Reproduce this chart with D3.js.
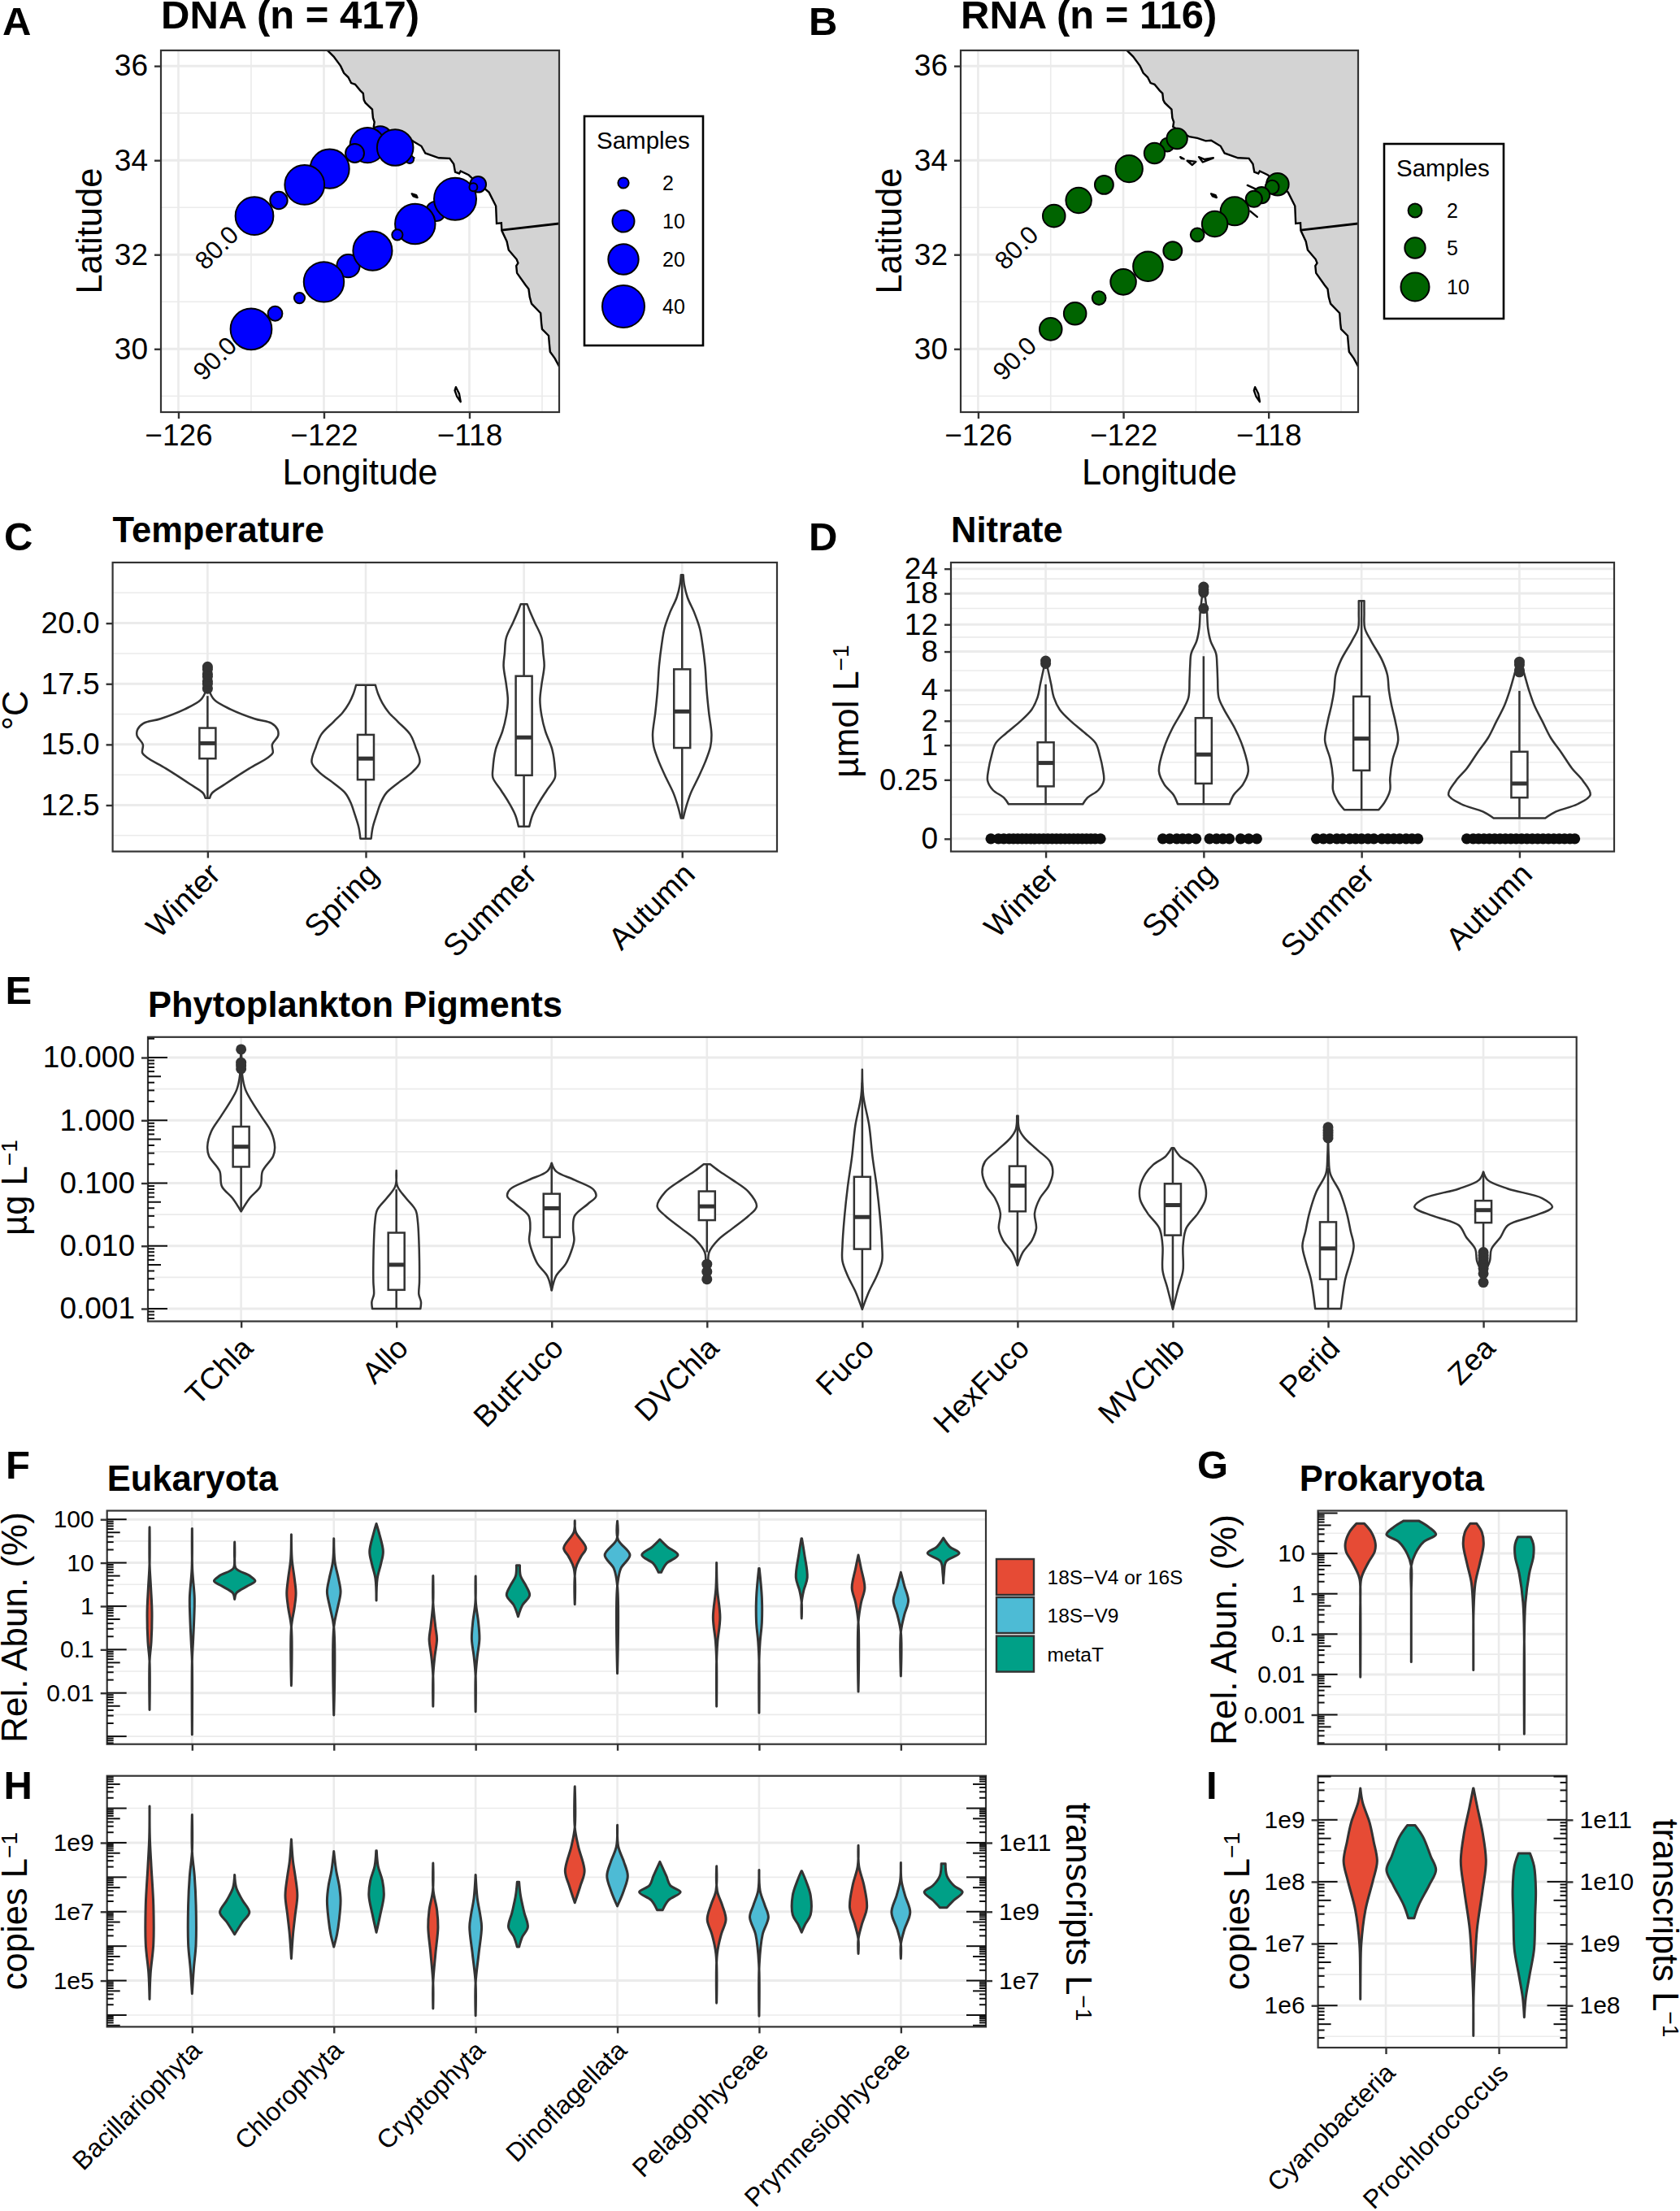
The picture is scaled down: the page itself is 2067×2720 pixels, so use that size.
<!DOCTYPE html>
<html>
<head>
<meta charset="utf-8">
<script src="https://cdn.jsdelivr.net/npm/d3@7"></script>
<style>
	body { margin: 0; background: #fff; }
	text { font-family: 'Liberation Sans', Arial, sans-serif; fill: #000; }
</style>
</head>
<body>
<div id="chart"></div>
<script>
const w = 2067;
const h = 2720;

// ---- maps: [lon, lat, samples], listed in drawing order
const dnaStations = [
	[-119.64, 34.02, 1], [-120.45, 34.47, 12], [-120.8, 34.32, 27], [-120.04, 34.27, 29], [-121.15, 34.15, 7],
	[-121.84, 33.82, 34], [-122.53, 33.48, 35], [-123.24, 33.15, 6], [-123.91, 32.82, 32],
	[-117.76, 33.49, 5], [-118.92, 32.92, 8], [-118.39, 33.18, 40], [-117.89, 33.43, 1], [-119.49, 32.65, 36],
	[-119.98, 32.42, 2], [-121.33, 31.76, 11], [-120.66, 32.08, 34], [-122.0, 31.42, 36], [-122.67, 31.08, 2],
	[-123.34, 30.75, 4], [-124.0, 30.42, 38],
];
const rnaStations = [
	[-120.79, 34.33, 2], [-120.52, 34.46, 5], [-121.14, 34.15, 5], [-121.84, 33.82, 9], [-122.53, 33.48, 4],
	[-123.23, 33.15, 8], [-123.91, 32.82, 6],
	[-117.75, 33.49, 6], [-117.9, 33.43, 2], [-118.19, 33.26, 3], [-118.4, 33.18, 3], [-118.93, 32.92, 10],
	[-119.48, 32.65, 8], [-119.96, 32.42, 2], [-120.64, 32.08, 4], [-121.32, 31.75, 11], [-122.0, 31.42, 8],
	[-122.67, 31.08, 2], [-123.33, 30.75, 6], [-124.0, 30.42, 6],
];
const dnaLegend = [2, 10, 20, 40];
const rnaLegend = [2, 5, 10];

const coast = [
	[-121.95, 36.45], [-121.9, 36.33], [-121.73, 36.2], [-121.54, 36.0], [-121.45, 35.85], [-121.33, 35.76], [-121.25, 35.64], [-121.14, 35.61], [-121.0, 35.48], [-120.92, 35.42],
	[-120.9, 35.28], [-120.86, 35.22], [-120.67, 35.08], [-120.65, 34.9], [-120.61, 34.81], [-120.63, 34.71], [-120.18, 34.5], [-119.96, 34.47], [-119.73, 34.41], [-119.58, 34.42],
	[-119.32, 34.3], [-119.21, 34.15], [-118.84, 34.05], [-118.54, 34.04], [-118.43, 33.92], [-118.39, 33.75], [-118.28, 33.72], [-118.24, 33.77],
	[-118.02, 33.69], [-117.94, 33.63], [-117.46, 33.32], [-117.27, 33.03], [-117.25, 32.66], [-117.12, 32.67], [-117.11, 32.51], [-116.97, 32.28], [-116.92, 32.1],
	[-116.7, 31.9], [-116.66, 31.82], [-116.71, 31.76], [-116.69, 31.61], [-116.45, 31.35], [-116.37, 31.27], [-116.34, 31.1], [-116.29, 30.96], [-116.04, 30.76], [-116.02, 30.55], [-116.0, 30.42],
	[-115.82, 30.28], [-115.8, 30.1], [-115.78, 29.94], [-115.65, 29.8], [-115.53, 29.63], [-115.4, 29.5],
];
const landCorners = [[-115, 29.5], [-115, 36.6], [-121.95, 36.6]];
const border = [[-117.11, 32.52], [-115.4, 32.67]];
const islands = [
	[[-120.43, 34.07], [-120.33, 34.03], [-120.4, 34.04]],
	[[-120.24, 33.99], [-120.0, 33.97], [-120.1, 33.9]],
	[[-119.92, 34.07], [-119.76, 34.02], [-119.52, 34.05], [-119.81, 33.96]],
	[[-119.58, 33.29], [-119.46, 33.26], [-119.43, 33.21], [-119.54, 33.24]],
	[[-118.58, 33.47], [-118.35, 33.39]],
	[[-118.5, 32.92], [-118.31, 32.8]],
	[[-118.37, 29.19], [-118.28, 29.05], [-118.24, 28.88], [-118.34, 28.99], [-118.4, 29.12]],
];

// ---- seasons: profile rows are [value, density]
const seasons = ['Winter', 'Spring', 'Summer', 'Autumn'];

const tempViolins = [
	[[18.24, 1], [17.6, 2], [17.22, 5], [16.83, 15], [16.45, 45], [16.06, 90], [15.87, 122], [15.62, 133], [15.36, 134], [15, 123], [14.65, 124], [14.46, 115], [14.01, 80], [13.37, 35], [12.99, 10], [12.79, 6]],
	[[17.45, 20], [17.09, 25], [16.71, 33], [16.32, 45], [15.94, 62], [15.42, 85], [14.91, 95], [14.27, 103], [13.88, 90], [13.37, 60], [12.99, 40], [12.6, 30], [12.09, 22], [11.58, 15], [11.12, 12]],
	[[20.78, 8], [20.55, 12], [20.04, 22], [19.4, 35], [18.76, 38], [18.24, 40], [17.47, 35], [16.83, 32], [16.19, 35], [15.55, 42], [14.78, 55], [14.01, 60], [13.63, 60], [13.12, 45], [12.6, 30], [12.09, 18], [11.62, 12]],
	[[21.99, 4], [21.58, 6], [21.06, 12], [20.42, 25], [19.78, 35], [19.14, 40], [18.24, 45], [17.22, 48], [16.32, 52], [15.42, 57], [14.91, 55], [14.27, 45], [13.63, 32], [12.99, 18], [12.47, 10], [11.96, 4]],
];
// whisker low, Q1, median, Q3, whisker high
const tempBoxes = [
	[12.8, 14.42, 15.05, 15.68, 17.0],
	[11.12, 13.55, 14.42, 15.4, 17.45],
	[11.62, 13.73, 15.29, 17.82, 20.78],
	[11.96, 14.86, 16.36, 18.1, 21.99],
];
const tempOutliers = [[17.3, 17.5, 17.6, 17.8, 17.9, 18.1, 18.2], [], [], []];

// nitrate profiles are read on the axis' cube-root scale
const nitrateViolins = [
	[[1.92, 2], [1.81, 6], [1.65, 12], [1.51, 17], [1.38, 28], [1.25, 50], [1.13, 75], [1.02, 95], [0.88, 103], [0.75, 108], [0.62, 110], [0.52, 100], [0.44, 80], [0.37, 71]],
	[[2.7, 3], [2.58, 5], [2.43, 8], [2.25, 10], [2.11, 15], [1.98, 25], [1.85, 27], [1.71, 28], [1.51, 30], [1.38, 40], [1.18, 60], [0.98, 75], [0.72, 85], [0.58, 75], [0.47, 58], [0.37, 50]],
	[[2.54, 7], [2.41, 7], [2.25, 8], [2.11, 20], [1.91, 40], [1.75, 50], [1.58, 53], [1.42, 58], [1.25, 65], [1.05, 70], [0.85, 60], [0.65, 55], [0.52, 55], [0.39, 45], [0.31, 34]],
	[[1.91, 3], [1.78, 10], [1.58, 20], [1.42, 30], [1.25, 45], [1.08, 60], [0.92, 80], [0.75, 100], [0.62, 120], [0.47, 134], [0.37, 110], [0.29, 70], [0.22, 50]],
];
const nitrateBoxes = [
	[0.37, 0.56, 0.81, 1.03, 1.65],
	[0.37, 0.59, 0.9, 1.29, 1.95],
	[0.31, 0.73, 1.07, 1.52, 2.54],
	[0.22, 0.44, 0.59, 0.93, 1.58],
];
const nitrateOutliers = [[1.87, 1.9], [2.46, 2.63, 2.66, 2.69], [], [1.78, 1.8, 1.86, 1.89]];
const nitrateZeros = [
	[-102, -88, -78, -68, -60, -52, -44, -36, -28, -20, -12, -4, 4, 12, 20, 28, 36, 44, 52, 60, 68, 76, 84, 92, 102],
	[-76, -63, -50, -39, -28, -14, 11, 24, 36, 48, 69, 84, 99],
	[-84, -71, -59, -46, -35, -22, -11, 0, 12, 23, 38, 49, 60, 71, 83, 94, 105],
	[-98, -86, -76, -66, -56, -46, -36, -26, -16, -6, 4, 14, 24, 34, 44, 54, 64, 74, 84, 94, 103],
];
const nitrateTicks = [0, 0.25, 1, 2, 4, 8, 12, 18, 24];
const nitrateMinor = [0.0174, 0.088, 0.546, 1.45, 2.94, 5.8, 9.98, 14.9, 21.4];

// ---- pigments: profile rows are [log10 value, density]
const pigments = ['TChla', 'Allo', 'ButFuco', 'DVChla', 'Fuco', 'HexFuco', 'MVChlb', 'Perid', 'Zea'];
const pigmentViolins = [
	[[1.13, 1], [0.97, 3], [0.73, 4], [0.49, 10], [0.3, 22], [0.06, 40], [-0.18, 58], [-0.42, 65], [-0.57, 62], [-0.81, 42], [-1.05, 38], [-1.24, 18], [-1.45, 2]],
	[[-0.8, 1], [-1.05, 4], [-1.24, 20], [-1.43, 38], [-1.62, 42], [-1.91, 44], [-2.24, 45], [-2.58, 45], [-2.77, 44], [-2.89, 48], [-3, 47]],
	[[-0.68, 2], [-0.81, 10], [-0.95, 45], [-1.1, 80], [-1.21, 85], [-1.33, 70], [-1.52, 45], [-1.72, 42], [-1.91, 44], [-2.1, 38], [-2.29, 28], [-2.48, 10], [-2.71, 2]],
	[[-0.7, 8], [-0.81, 25], [-0.95, 50], [-1.14, 80], [-1.37, 95], [-1.52, 80], [-1.72, 50], [-1.91, 22], [-2.1, 6], [-2.29, 4], [-2.58, 1]],
	[[0.81, 1], [0.39, 4], [-0.09, 15], [-0.57, 21], [-1.05, 29], [-1.52, 35], [-2, 39], [-2.24, 39], [-2.48, 29], [-2.72, 15], [-3.01, 1]],
	[[0.07, 3], [-0.14, 5], [-0.28, 15], [-0.47, 39], [-0.66, 63], [-0.83, 68], [-1.05, 60], [-1.24, 44], [-1.48, 34], [-1.72, 37], [-1.91, 29], [-2.1, 12], [-2.31, 2]],
	[[-0.44, 4], [-0.57, 15], [-0.71, 39], [-0.85, 53], [-1.05, 63], [-1.26, 63], [-1.48, 49], [-1.72, 27], [-2, 21], [-2.39, 21], [-2.67, 12], [-3.01, 1]],
	[[-0.11, 2], [-0.57, 3], [-0.85, 6], [-1.14, 24], [-1.48, 37], [-1.76, 44], [-2, 50], [-2.24, 44], [-2.53, 34], [-3, 26]],
	[[-0.82, 1], [-0.95, 10], [-1.09, 48], [-1.24, 112], [-1.38, 131], [-1.52, 97], [-1.67, 48], [-1.86, 34], [-2.05, 17], [-2.24, 14], [-2.43, 5], [-2.6, 1]],
];
const pigmentBoxes = [
	[-1.45, -0.74, -0.42, -0.1, 0.82],
	[-3, -2.7, -2.3, -1.79, -1.1],
	[-2.71, -1.86, -1.4, -1.17, -0.68],
	[-2.1, -1.59, -1.37, -1.13, -0.7],
	[-3, -2.05, -1.54, -0.9, 0.6],
	[-2.31, -1.45, -1.04, -0.73, 0.07],
	[-3, -1.83, -1.35, -1.01, -0.44],
	[-3, -2.53, -2.04, -1.62, -0.76],
	[-2.05, -1.63, -1.43, -1.28, -0.82],
];
const pigmentOutliers = [
	[0.82, 0.87, 0.92, 1.13],
	[], [],
	[-2.29, -2.41, -2.53],
	[], [], [],
	[-0.28, -0.24, -0.2, -0.16, -0.11],
	[-2.1, -2.15, -2.2, -2.25, -2.3, -2.36, -2.44, -2.58],
];
const pigmentTicks = [0.001, 0.01, 0.1, 1, 10];
const pigmentMinor = [0.00316, 0.0316, 0.316, 3.16];

// ---- taxa, one [18S-V4 or 16S, 18S-V9, metaT] triple per group; rows are [log10 value, density]
const eukaryotes = ['Bacillariophyta', 'Chlorophyta', 'Cryptophyta', 'Dinoflagellata', 'Pelagophyceae', 'Prymnesiophyceae'];
const eukRelAbun = [
	[
		[[1.82, 1], [0.98, 3], [0.42, 7], [-0.15, 10], [-0.82, 8], [-1.27, 3], [-2.39, 1]],
		[[1.79, 1], [0.87, 4], [0.19, 10], [-0.26, 9], [-0.82, 6], [-1.27, 2], [-2.96, 1]],
		[[1.48, 3], [1.09, 3], [0.87, 7], [0.7, 45], [0.58, 60], [0.47, 40], [0.3, 8], [0.16, 2]],
	],
	[
		[[1.65, 1], [1.09, 5], [0.64, 12], [0.3, 16], [-0.03, 12], [-0.48, 3], [-1.83, 1]],
		[[1.56, 1], [1.03, 6], [0.64, 16], [0.33, 22], [-0.03, 14], [-0.48, 3], [-2.51, 1]],
		[[1.9, 3], [1.65, 12], [1.26, 22], [0.98, 16], [0.64, 6], [0.13, 1]],
	],
	[
		[[0.7, 1], [0.08, 3], [-0.48, 10], [-0.76, 14], [-1.16, 8], [-1.61, 3], [-2.31, 1]],
		[[0.69, 1], [0.08, 4], [-0.37, 11], [-0.76, 14], [-1.16, 8], [-1.61, 3], [-2.43, 1]],
		[[0.94, 8], [0.7, 10], [0.47, 25], [0.25, 35], [0.02, 15], [-0.24, 2]],
	],
	[
		[[1.97, 1], [1.71, 6], [1.34, 34], [1.15, 21], [0.87, 6], [0.04, 1]],
		[[1.96, 1], [1.54, 5], [1.18, 38], [0.87, 13], [0.47, 3], [-1.55, 1]],
		[[1.54, 3], [1.37, 24], [1.18, 53], [0.98, 21], [0.78, 7]],
	],
	[
		[[1, 1], [0.42, 5], [-0.26, 13], [-0.82, 6], [-1.27, 2], [-2.31, 1]],
		[[0.87, 4], [0.19, 11], [-0.37, 11], [-0.82, 6], [-1.27, 2], [-2.46, 1]],
		[[1.56, 4], [1.2, 11], [0.66, 19], [0.36, 9], [0.08, 3], [-0.28, 2]],
	],
	[
		[[1.18, 1], [0.87, 11], [0.42, 21], [0.08, 11], [-0.37, 2], [-1.97, 1]],
		[[0.78, 3], [0.47, 13], [0.13, 24], [-0.2, 13], [-0.6, 3], [-1.61, 1]],
		[[1.57, 3], [1.37, 21], [1.22, 47], [1.03, 11], [0.75, 5], [0.53, 3]],
	],
];
const eukCopies = [
	[
		[[10.06, 1], [9.17, 4], [8.32, 8], [7.19, 14], [6.06, 14], [5.21, 6], [4.46, 1]],
		[[9.81, 1], [8.75, 3], [8.04, 10], [7.19, 14], [6.06, 14], [5.35, 8], [4.62, 1]],
		[[8.07, 1], [7.69, 8], [7.33, 25], [6.98, 44], [6.7, 25], [6.34, 2]],
	],
	[
		[[9.1, 1], [8.46, 8], [8.04, 14], [7.47, 20], [6.91, 14], [6.34, 8], [5.64, 1]],
		[[8.75, 1], [8.18, 10], [7.76, 18], [7.33, 22], [6.77, 18], [6.34, 12], [5.98, 2]],
		[[8.77, 4], [8.32, 8], [7.9, 20], [7.47, 24], [6.91, 14], [6.4, 2]],
	],
	[
		[[8.41, 1], [7.61, 4], [7.05, 14], [6.55, 17], [5.78, 10], [4.93, 3], [4.19, 1]],
		[[8.07, 1], [7.4, 8], [6.91, 16], [6.55, 20], [5.78, 12], [4.93, 3], [3.98, 1]],
		[[7.86, 6], [7.47, 10], [6.98, 20], [6.55, 30], [6.27, 15], [5.98, 6]],
	],
	[
		[[10.63, 1], [9.45, 3], [8.89, 13], [8.18, 30], [7.76, 19], [7.26, 1]],
		[[9.51, 1], [8.89, 6], [8.46, 21], [8.04, 32], [7.61, 21], [7.16, 1]],
		[[8.45, 2], [8.04, 21], [7.76, 32], [7.57, 60], [7.33, 27], [7.05, 11]],
	],
	[
		[[8.32, 1], [7.61, 5], [7.19, 19], [6.77, 29], [6.34, 16], [5.78, 5], [4.35, 1]],
		[[8.21, 1], [7.61, 6], [7.19, 19], [6.84, 29], [6.34, 13], [5.49, 4], [3.97, 1]],
		[[8.18, 4], [7.9, 15], [7.47, 28], [6.91, 28], [6.63, 13], [6.4, 3]],
	],
	[
		[[8.92, 1], [8.32, 5], [7.76, 19], [7.12, 27], [6.63, 13], [6.2, 3], [5.78, 1]],
		[[8.42, 1], [7.9, 5], [7.47, 15], [6.98, 29], [6.48, 13], [6.06, 3], [5.64, 1]],
		[[8.39, 9], [8.04, 13], [7.76, 32], [7.57, 56], [7.33, 32], [7.12, 13]],
	],
];
const prokaryotes = ['Cyanobacteria', 'Prochlorococcus'];
const proRelAbun = [
	[
		[[1.74, 15], [1.53, 35], [1.25, 47], [1.05, 45], [0.75, 25], [0.38, 6], [-0.22, 3], [-2.07, 1]],
		[[1.81, 25], [1.65, 55], [1.47, 75], [1.29, 40], [0.99, 15], [0.69, 3], [0.02, 1], [-1.69, 1]],
	],
	[
		[[1.74, 13], [1.53, 28], [1.23, 33], [0.75, 22], [0.26, 9], [-0.46, 4], [-1.19, 3], [-1.89, 1]],
		[[1.41, 22], [1.23, 30], [0.93, 30], [0.5, 18], [-0.22, 7], [-1.19, 2], [-3.48, 1]],
	],
];
const proCopies = [
	[
		[[9.51, 3], [9.28, 10], [8.96, 30], [8.65, 42], [8.33, 52], [8.02, 40], [7.54, 18], [6.99, 6], [6.52, 4], [6.1, 2]],
		[[8.91, 15], [8.72, 38], [8.41, 60], [8.19, 75], [7.94, 55], [7.62, 25], [7.41, 12]],
	],
	[
		[[9.51, 4], [9.2, 15], [8.8, 30], [8.33, 40], [7.86, 30], [7.23, 14], [6.68, 8], [6.13, 4], [5.51, 2]],
		[[8.46, 20], [8.25, 32], [7.86, 37], [7.46, 35], [6.91, 32], [6.52, 20], [6.13, 8], [5.81, 3]],
	],
];
const markers = ['18S\u2212V4 or 16S', '18S\u2212V9', 'metaT'];
const markerColors = ['#E64B35', '#4DBBD5', '#00A087'];

const svg = d3.select('#chart').append('svg').attr('width', w).attr('height', h).style('display', 'block');
svg.append('rect').attr('width', w).attr('height', h).attr('fill', '#fff');

const dark = '#333';
const ident = v => v;
const pow10 = v => 10 ** v;
const cube = v => v ** 3;

function label(txt, x, y, size, bold) {
	return svg.append('text').attr('x', x).attr('y', y).style('font-size', size + 'px')
		.style('font-weight', bold ? 'bold' : 'normal').text(txt);
}

function vTitle(txt, sup, x, y, rot, size) {
	const t = svg.append('text').attr('transform', `translate(${x},${y}) rotate(${rot})`)
		.style('font-size', (size || 43.5) + 'px').style('text-anchor', 'middle');
	t.append('tspan').text(txt);
	if (sup) t.append('tspan').attr('dy', '-0.42em').style('font-size', '0.65em').text(sup);
}

// background grid of a panel, the border is drawn later by frame()
function grid(box, xs, ys, yMinor, xMinor) {
	const g = svg.append('g');
	const hline = (v, sw) => g.append('line').attr('x1', box.left).attr('x2', box.right).attr('y1', box.y(v)).attr('y2', box.y(v)).attr('stroke', '#EBEBEB').attr('stroke-width', sw);
	const vline = (v, sw) => g.append('line').attr('y1', box.top).attr('y2', box.bottom).attr('x1', box.x(v)).attr('x2', box.x(v)).attr('stroke', '#EBEBEB').attr('stroke-width', sw);
	(yMinor || []).forEach(v => hline(v, 1.6));
	(xMinor || []).forEach(v => vline(v, 1.6));
	ys.forEach(v => hline(v, 3));
	xs.forEach(v => vline(v, 2.6));
}

function frame(box, opts) {
	const g = svg.append('g');
	g.append('rect').attr('x', box.left).attr('y', box.top).attr('width', box.right - box.left).attr('height', box.bottom - box.top)
		.attr('fill', 'none').attr('stroke', dark).attr('stroke-width', 2.2);

	const left = g.append('g').attr('transform', `translate(${box.left},0)`)
		.call(d3.axisLeft(box.y).tickValues(opts.yTicks).tickFormat(opts.yFormat).tickSize(8).tickPadding(8));
	const xAxis = d3.axisBottom(box.x).tickSize(8).tickPadding(opts.xPad || 7);
	if (opts.xTicks) xAxis.tickValues(opts.xTicks);
	if (opts.xFormat) xAxis.tickFormat(opts.xFormat);
	const bottom = g.append('g').attr('transform', `translate(0,${box.bottom})`).call(xAxis);

	[left, bottom].forEach(a => {
		a.select('.domain').remove();
		a.selectAll('line').attr('stroke', dark).attr('stroke-width', 2.4);
		a.selectAll('text').attr('fill', '#000').style('font-family', "'Liberation Sans', Arial, sans-serif");
	});
	left.selectAll('text').style('font-size', (opts.ySize || 37) + 'px');
	bottom.selectAll('text').style('font-size', (opts.xSize || 37) + 'px');

	if (opts.rotate) {
		bottom.selectAll('text')
			.attr('y', 0).attr('x', 0).attr('dy', '0.35em')
			.attr('transform', `translate(${opts.rotate[0]},${opts.rotate[1]}) rotate(-45)`)
			.style('text-anchor', 'end');
	}
	return g;
}

function rightAxis(box, scale, ticks, size) {
	const a = svg.append('g').attr('transform', `translate(${box.right},0)`)
		.call(d3.axisRight(scale).tickValues(ticks).tickFormat(d => '1e' + Math.round(Math.log10(d))).tickSize(8).tickPadding(8));
	a.select('.domain').remove();
	a.selectAll('line').attr('stroke', dark).attr('stroke-width', 2.4);
	a.selectAll('text').attr('fill', '#000').style('font-size', size + 'px').style('font-family', "'Liberation Sans', Arial, sans-serif");
}

// annotation_logticks style marks, long at 1, mid at 5, short otherwise
function logTicks(box, side) {
	const g = svg.append('g');
	const [lo, hi] = box.y.domain();
	d3.range(Math.floor(Math.log10(lo)), Math.ceil(Math.log10(hi)) + 1).forEach(dec => {
		d3.range(1, 10).forEach(m => {
			const v = m * 10 ** dec;
			if (v < lo || v > hi) return;
			const len = m === 1 ? 24 : m === 5 ? 16 : 8;
			const x0 = side === 'left' ? box.left : box.right;
			const x1 = side === 'left' ? box.left + len : box.right - len;
			g.append('line').attr('x1', x0).attr('x2', x1).attr('y1', box.y(v)).attr('y2', box.y(v))
				.attr('stroke', '#111').attr('stroke-width', 2);
		});
	});
}

function violin(box, cx, profile, conv, k, fill, sw) {
	// density read to the outer edge of the outline, so pull half a line back
	const half = p => Math.max(p[1] * k - sw / 2, 0);
	const area = d3.area()
		.y(d => box.y(conv(d[0])))
		.x0(d => cx - half(d))
		.x1(d => cx + half(d))
		.curve(d3.curveCatmullRom.alpha(0.5));
	svg.append('path').datum(profile).attr('d', area).attr('fill', fill).attr('stroke', dark).attr('stroke-width', sw).attr('stroke-linejoin', 'round');
}

function boxplot(box, cx, b, conv) {
	const g = svg.append('g');
	const y = v => box.y(conv(v));
	g.append('line').attr('x1', cx).attr('x2', cx).attr('y1', y(b[0])).attr('y2', y(b[1])).attr('stroke', dark).attr('stroke-width', 2.5);
	g.append('line').attr('x1', cx).attr('x2', cx).attr('y1', y(b[3])).attr('y2', y(b[4])).attr('stroke', dark).attr('stroke-width', 2.5);
	g.append('rect').attr('x', cx - 10).attr('width', 20).attr('y', y(b[3])).attr('height', y(b[1]) - y(b[3]))
		.attr('fill', '#fff').attr('stroke', dark).attr('stroke-width', 2.5);
	g.append('line').attr('x1', cx - 10).attr('x2', cx + 10).attr('y1', y(b[2])).attr('y2', y(b[2])).attr('stroke', dark).attr('stroke-width', 5);
}

// ---- map panels
function mapPanel(left, right, stations, sizes, maxR, legendBox, title, letter, letterX) {
	const box = { left, right, top: 62, bottom: 507 };
	box.x = d3.scaleLinear().domain([-126.48, -115.53]).range([left, right]);
	box.y = d3.scaleLinear().domain([28.66, 36.33]).range([507, 62]);
	grid(box, [-126, -122, -118], [30, 32, 34, 36], [29, 31, 33, 35], [-124, -120, -116]);

	const clipId = 'clip' + letter;
	svg.append('clipPath').attr('id', clipId).append('rect').attr('x', left).attr('y', 62).attr('width', right - left).attr('height', 445);
	const m = svg.append('g').attr('clip-path', `url(#${clipId})`);
	const line = d3.line().x(d => box.x(d[0])).y(d => box.y(d[1]));
	m.append('path').attr('d', line(coast.concat(landCorners)) + 'Z').attr('fill', '#D3D3D3');
	m.append('path').attr('d', line(coast)).attr('fill', 'none').attr('stroke', '#000').attr('stroke-width', 2.4);
	m.append('path').attr('d', line(border)).attr('fill', 'none').attr('stroke', '#000').attr('stroke-width', 2.8);
	islands.forEach(p => m.append('path').attr('d', line(p) + 'Z').attr('fill', 'none').attr('stroke', '#000').attr('stroke-width', 2.4).attr('stroke-linejoin', 'round'));

	const r = d3.scaleSqrt().domain([0, sizes[sizes.length - 1]]).range([1, maxR]);
	const color = title.startsWith('DNA') ? '#0000FF' : '#006400';
	svg.append('g').selectAll('circle').data(stations).enter().append('circle')
		.attr('cx', d => box.x(d[0])).attr('cy', d => box.y(d[1])).attr('r', d => r(d[2]))
		.attr('fill', color).attr('stroke', '#000').attr('stroke-width', 2);

	[['80.0', -124.95, 32.15], ['90.0', -125, 29.8]].forEach(d => {
		svg.append('text').attr('transform', `translate(${box.x(d[1])},${box.y(d[2])}) rotate(-45)`)
			.style('font-size', '31px').style('text-anchor', 'middle').attr('dy', '0.35em').text(d[0]);
	});

	frame(box, {
		yTicks: [30, 32, 34, 36], yFormat: d3.format('d'),
		xTicks: [-126, -122, -118], xFormat: d => '\u2212' + Math.abs(d),
	});
	label(letter, letterX, 43, 49, true);
	label(title, left, 35, 49, true);
	vTitle('Latitude', null, left - 73, 284, -90);
	svg.append('text').attr('x', (left + right) / 2 - 0).attr('y', 596).style('font-size', '43.5px').style('text-anchor', 'middle').text('Longitude');

	// legend
	const lg = legendBox;
	svg.append('rect').attr('x', lg.left).attr('y', lg.top).attr('width', lg.right - lg.left).attr('height', lg.bottom - lg.top)
		.attr('fill', '#fff').attr('stroke', '#000').attr('stroke-width', 2.6);
	label('Samples', lg.left + 15, lg.top + 40, 29.5);
	sizes.forEach((s, i) => {
		svg.append('circle').attr('cx', lg.keyX).attr('cy', lg.rows[i]).attr('r', r(s)).attr('fill', color).attr('stroke', '#000').attr('stroke-width', 2);
		label(s, lg.textX, lg.rows[i] + 9, 25);
	});
}

mapPanel(198, 688, dnaStations, dnaLegend, 26, { left: 719, right: 865, top: 143, bottom: 425, keyX: 767, textX: 815, rows: [225, 272, 319, 377] }, 'DNA (n = 417)', 'A', 3);
mapPanel(1182, 1671, rnaStations, rnaLegend, 17.5, { left: 1703, right: 1850, top: 177, bottom: 392, keyX: 1741, textX: 1780, rows: [259, 305, 353] }, 'RNA (n = 116)', 'B', 995);

// ---- season panels
const seasonRotate = [8, 21];

const boxC = { left: 138.6, right: 956, top: 692, bottom: 1047.5 };
boxC.x = d3.scalePoint().domain(seasons).range([boxC.left, boxC.right]).padding(0.6);
boxC.y = d3.scaleLinear().domain([10.59, 22.5]).range([boxC.bottom, boxC.top]);
grid(boxC, seasons, [12.5, 15, 17.5, 20], [11.25, 13.75, 16.25, 18.75, 21.25]);
seasons.forEach((s, i) => {
	const cx = boxC.x(s);
	violin(boxC, cx, tempViolins[i], ident, 0.657, 'none', 2.5);
	boxplot(boxC, cx, tempBoxes[i], ident);
	tempOutliers[i].forEach(v => svg.append('circle').attr('cx', cx).attr('cy', boxC.y(v)).attr('r', 6.5).attr('fill', dark));
});
frame(boxC, { yTicks: [12.5, 15, 17.5, 20], yFormat: d3.format('.1f'), rotate: seasonRotate, xSize: 38 });
label('C', 5, 677, 49, true);
label('Temperature', boxC.left, 667, 43.5, true);
vTitle('\u00B0C', null, 34, 874, -90);

const boxD = { left: 1170, right: 1986, top: 692, bottom: 1047.5 };
boxD.x = d3.scalePoint().domain(seasons).range([boxD.left, boxD.right]).padding(0.6);
boxD.y = d3.scalePow().exponent(1 / 3).domain([-0.0025, 25.7]).range([boxD.bottom, boxD.top]);
grid(boxD, seasons, nitrateTicks, nitrateMinor);
seasons.forEach((s, i) => {
	const cx = boxD.x(s);
	violin(boxD, cx, nitrateViolins[i], cube, 0.661, 'none', 2.5);
	boxplot(boxD, cx, nitrateBoxes[i], cube);
	nitrateOutliers[i].forEach(v => svg.append('circle').attr('cx', cx).attr('cy', boxD.y(cube(v))).attr('r', 6.5).attr('fill', dark));
	nitrateZeros[i].forEach(o => svg.append('circle').attr('cx', cx + o * 0.661).attr('cy', boxD.y(0)).attr('r', 6.7).attr('fill', '#0d0d0d'));
});
frame(boxD, { yTicks: nitrateTicks, yFormat: d => String(d), rotate: seasonRotate, xSize: 38 });
label('D', 995, 677, 49, true);
label('Nitrate', boxD.left, 667, 43.5, true);
vTitle('\u00B5mol L', '\u22121', 1056, 875, -90);

// ---- pigments
const boxE = { left: 182, right: 1939.7, top: 1275.8, bottom: 1625.5 };
boxE.x = d3.scalePoint().domain(pigments).range([boxE.left, boxE.right]).padding(0.6);
boxE.y = d3.scaleLog().domain([0.00063, 21.2]).range([boxE.bottom, boxE.top]);
grid(boxE, pigments, pigmentTicks, pigmentMinor);
pigments.forEach((s, i) => {
	const cx = boxE.x(s);
	violin(boxE, cx, pigmentViolins[i], pow10, 0.657, 'none', 2.5);
	boxplot(boxE, cx, pigmentBoxes[i], pow10);
	pigmentOutliers[i].forEach(v => svg.append('circle').attr('cx', cx).attr('cy', boxE.y(pow10(v))).attr('r', 6.5).attr('fill', dark));
});
frame(boxE, { yTicks: pigmentTicks, yFormat: d3.format('.3f'), rotate: [7, 26] });
logTicks(boxE, 'left');
label('E', 6.5, 1235, 49, true);
label('Phytoplankton Pigments', boxE.left, 1251, 43.5, true);
vTitle('\u00B5g L', '\u22121', 33, 1461, -90);

// ---- taxa
function taxaPanel(box, groups, data, offsets, k, yTicks, yFormat, minor, rotate, xSize) {
	box.x = d3.scalePoint().domain(groups).range([box.left, box.right]).padding(0.6);
	grid(box, groups, yTicks, minor);
	const step = box.x.step();
	groups.forEach((gr, i) => {
		data[i].forEach((p, j) => {
			const color = offsets.length === 2 ? markerColors[j * 2] : markerColors[j];
			violin(box, box.x(gr) + offsets[j] * step, p, pow10, k, color, 3);
		});
	});
	frame(box, {
		yTicks, yFormat, ySize: 30, xSize: xSize || 32,
		xFormat: rotate ? null : () => '',
		rotate,
	});
	logTicks(box, 'left');
}

const sci = d => '1e' + Math.round(Math.log10(d));
const plain = d => String(d);

const boxF = { left: 131.7, right: 1213, top: 1858.5, bottom: 2145.7 };
boxF.y = d3.scaleLog().domain([10 ** -3.18, 10 ** 2.2]).range([boxF.bottom, boxF.top]);
taxaPanel(boxF, eukaryotes, eukRelAbun, [-0.3, 0, 0.3], 0.4464, [0.01, 0.1, 1, 10, 100], plain, [0.001, 0.00316, 0.0316, 0.316, 3.16, 31.6]);
label('F', 7, 1819, 49, true);
label('Eukaryota', boxF.left, 1834, 43.5, true);
vTitle('Rel. Abun. (%)', null, 33, 2002, -90, 44);

const boxH = { left: 131.7, right: 1213, top: 2184.7, bottom: 2493.4 };
boxH.y = d3.scaleLog().domain([10 ** 3.66, 10 ** 10.94]).range([boxH.bottom, boxH.top]);
taxaPanel(boxH, eukaryotes, eukCopies, [-0.3, 0, 0.3], 0.4464, [1e5, 1e7, 1e9], sci, [1e4, 1e6, 1e8, 1e10], [5, 23]);
logTicks(boxH, 'right');
rightAxis(boxH, d3.scaleLog().domain([10 ** 5.66, 10 ** 12.94]).range([boxH.bottom, boxH.top]), [1e7, 1e9, 1e11], 30);
label('H', 4.5, 2213, 49, true);
vTitle('copies L', '\u22121', 33, 2351, -90);
vTitle('transcripts L', '\u22121', 1312, 2352, 90);

const boxG = { left: 1621.6, right: 1927.5, top: 1858.5, bottom: 2145.7 };
boxG.y = d3.scaleLog().domain([10 ** -3.73, 10 ** 2.06]).range([boxG.bottom, boxG.top]);
taxaPanel(boxG, prokaryotes, proRelAbun, [-0.225, 0.225], 0.4254, [0.001, 0.01, 0.1, 1, 10], plain, [0.000316, 0.00316, 0.0316, 0.316, 3.16, 31.6]);
label('G', 1473, 1819, 49, true);
label('Prokaryota', 1598.7, 1834, 43.5, true);
vTitle('Rel. Abun. (%)', null, 1521, 2005, -90, 44);

const boxI = { left: 1621.6, right: 1927.5, top: 2184.7, bottom: 2519 };
boxI.y = d3.scaleLog().domain([10 ** 5.32, 10 ** 9.71]).range([boxI.bottom, boxI.top]);
taxaPanel(boxI, prokaryotes, proCopies, [-0.225, 0.225], 0.4254, [1e6, 1e7, 1e8, 1e9], sci, [10 ** 5.5, 10 ** 6.5, 10 ** 7.5, 10 ** 8.5, 10 ** 9.5], [5, 25]);
logTicks(boxI, 'right');
rightAxis(boxI, d3.scaleLog().domain([10 ** 7.32, 10 ** 11.71]).range([boxI.bottom, boxI.top]), [1e8, 1e9, 1e10, 1e11], 30);
label('I', 1484, 2213, 49, true);
vTitle('copies L', '\u22121', 1537, 2351, -90);
vTitle('transcripts L', '\u22121', 2034, 2372, 90);

// ---- marker legend
markers.forEach((mk, i) => {
	const top = [1918, 1965, 2012.6][i];
	svg.append('rect').attr('x', 1226).attr('y', top).attr('width', 46).attr('height', 44)
		.attr('fill', markerColors[i]).attr('stroke', dark).attr('stroke-width', 2.4);
	label(mk, 1288.5, top + 31, 24.5);
});
</script>
</body>
</html>
